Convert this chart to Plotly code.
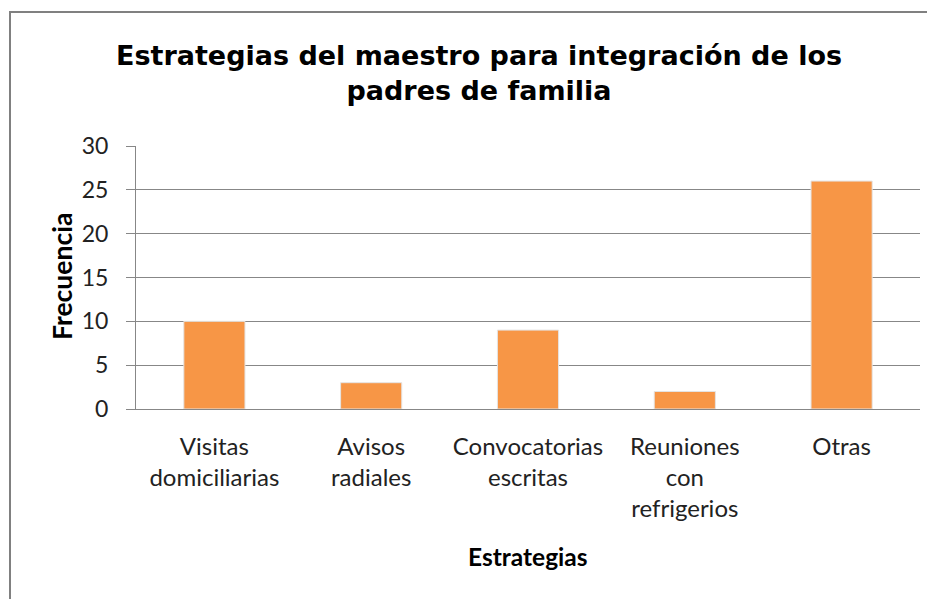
import plotly.graph_objects as go

categories = ["Visitas<br>domiciliarias", "Avisos<br>radiales", "Convocatorias<br>escritas",
              "Reuniones<br>con<br>refrigerios", "Otras"]
frecuencia = [10, 3, 9, 2, 26]
y_ticks = [0, 5, 10, 15, 20, 25, 30]

W, H = 935, 599
O = 8  # page body margin offset
# plot area in screen pixels: x 136..920, y 146..409
L, R, T, B = 136 - O, W - (920 - O), 146 - O, H - (409 - O)
pw, ph = W - L - R, H - T - B

def px_x(x):  # screen x -> paper
    return (x - O - L) / pw

def px_y(y):  # screen y -> paper
    return (H - B - (y - O)) / ph

fig = go.Figure()
fig.add_trace(go.Bar(
    x=categories, y=frecuencia,
    marker=dict(color="#F79646", line=dict(color="#E4E4E4", width=1)),
    hoverinfo="x+y",
))

gray = "#878787"
fig.update_layout(
    template="none",
    width=W, height=H,
    margin=dict(l=L, r=R, t=T, b=B, autoexpand=False),
    paper_bgcolor="white", plot_bgcolor="white",
    bargap=0.61,
    showlegend=False,
    title=dict(
        text="Estrategias del maestro para integración de los<br>padres de familia",
        font=dict(family="DejaVu Sans, sans-serif", size=27, color="black", weight="bold"),
        x=px_x(479), xref="paper", xanchor="center",
        y=1 - 57 / H, yref="container", yanchor="top",
    ),
    font=dict(family="Lato, sans-serif", color="black"),
    xaxis=dict(
        type="category", range=[-0.5, 4.5], automargin=False,
        showline=True, linecolor=gray, linewidth=1,
        ticks="", showgrid=False, zeroline=False,
        tickfont=dict(size=24, color="#222"),
        ticklabelstandoff=16,
    ),
    yaxis=dict(
        range=[0, 30], tickvals=y_ticks, ticktext=[str(v) for v in y_ticks],
        automargin=False,
        showline=True, linecolor=gray, linewidth=1,
        showgrid=True, gridcolor=gray, gridwidth=1,
        ticks="outside", ticklen=9, tickcolor=gray,
        tickfont=dict(size=23, color="#222"),
        ticklabelstandoff=13,
        zeroline=False,
    ),
    annotations=[
        dict(text="<b>Frecuencia</b>", xref="paper", yref="paper",
             x=px_x(62), y=px_y(277), textangle=-90, showarrow=False,
             xanchor="center", yanchor="middle",
             font=dict(family="Lato, sans-serif", size=26.5, color="black")),
        dict(text="<b>Estrategias</b>", xref="paper", yref="paper",
             x=px_x(528), y=px_y(556), showarrow=False,
             xanchor="center", yanchor="middle",
             font=dict(family="Lato, sans-serif", size=24.5, color="black")),
    ],
    shapes=[
        dict(type="rect", xref="paper", yref="paper",
             x0=px_x(10), x1=px_x(950), y0=px_y(12), y1=px_y(620),
             line=dict(color="#808080", width=2), fillcolor="rgba(0,0,0,0)", layer="below"),
    ],
)

fig.write_html("out.html")
